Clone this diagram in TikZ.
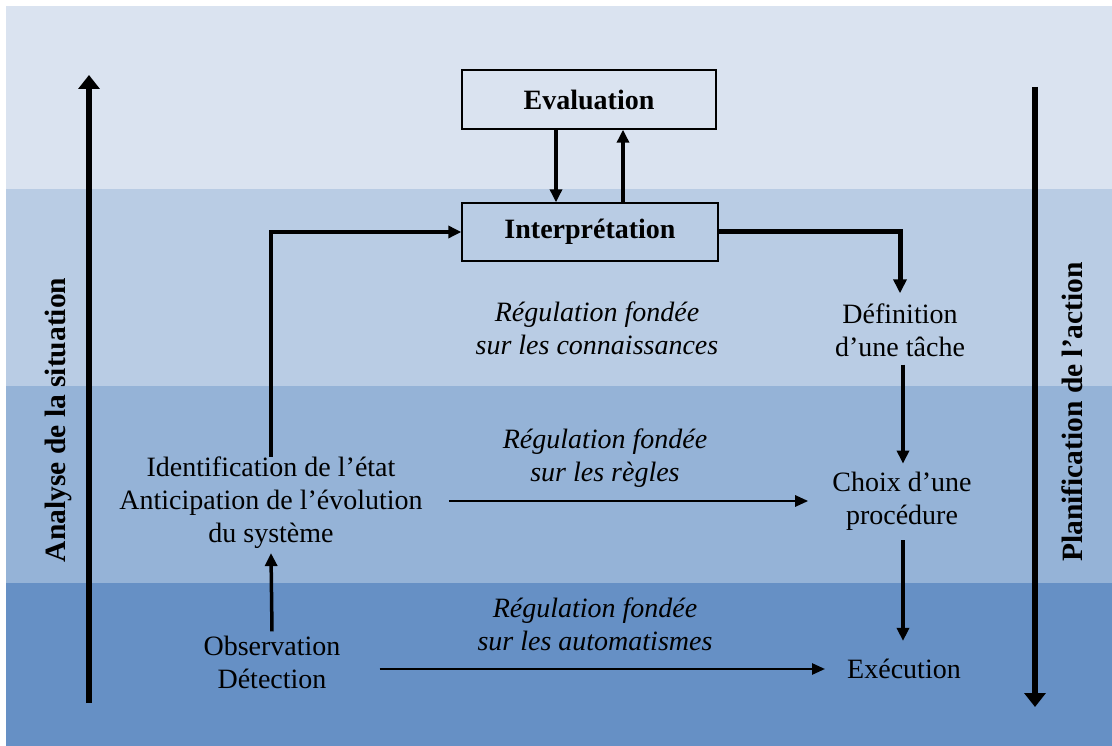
\documentclass[tikz,border=0pt]{standalone}
\usepackage{fontspec}
\setmainfont{Liberation Serif}
\usetikzlibrary{arrows.meta,calc}
\definecolor{bandA}{RGB}{218,227,240}
\definecolor{bandB}{RGB}{185,204,228}
\definecolor{bandC}{RGB}{149,179,215}
\definecolor{bandD}{RGB}{102,144,197}
\begin{document}
\begin{tikzpicture}[x=1pt,y=-1pt,
  txt/.style={font=\fontsize{28}{33}\selectfont, align=center, inner sep=4pt},
  reg/.style={font=\fontsize{28}{33}\selectfont\itshape, align=center},
  box/.style={draw, line width=1.4pt, font=\fontsize{28}{33}\selectfont\bfseries},
  side/.style={font=\fontsize{29.5}{33}\selectfont\bfseries, rotate=90},
  bigarrow/.style={line width=6pt, -{Triangle[length=14pt,width=21pt]}},
  arr/.style={line width=3.5pt, -{Triangle[length=13pt,width=12pt]}},
  thinarr/.style={line width=2.6pt, -{Triangle[length=13pt,width=11pt]}},
  fatarr/.style={line width=5pt, -{Triangle[length=14pt,width=13pt]}}]
\useasboundingbox (0,0) rectangle (1112,746);
% horizontal bands
\fill[white] (0,0) rectangle (1112,746);
\fill[bandA] (6,6) rectangle (1112,189);
\fill[bandB] (6,189) rectangle (1112,386);
\fill[bandC] (6,386) rectangle (1112,583);
\fill[bandD] (6,583) rectangle (1112,746);

% side axes
\coordinate (aBot) at (89,703);
\coordinate (aTop) at (89,75);
\coordinate (pTop) at (1035,87);
\coordinate (pBot) at (1035,707);
\draw[bigarrow] (aBot) -- (aTop);
\draw[bigarrow] (pTop) -- (pBot);
\node[side] (analyse) at (58,420) {Analyse de la situation};
\node[side] (plan) at (1072,412) {Planification de l'action};

% boxes
\node[box, minimum width=254pt, minimum height=59pt] (eval) at (589,99.5) {Evaluation};
\node[box, minimum width=256pt, minimum height=58pt] (interp) at (590,232) {Interprétation};

% text nodes
\node[txt] (def) at (900,330) {Définition\\d'une tâche};
\node[txt] (choix) at (902,501) {Choix d'une\\procédure};
\node[txt] (exec) at (904,669) {Exécution};
\node[txt] (ident) at (271,503) {Identification de l'état\\Anticipation de l'évolution\\du système};
\node[txt] (obs) at (272,662) {Observation\\Détection};

% regulation labels
\node[reg] (r1) at (597,328) {Régulation fondée\\sur les connaissances};
\node[reg] (r2) at (605,458) {Régulation fondée\\sur les règles};
\node[reg] (r3) at (595,624) {Régulation fondée\\sur les automatismes};

% connectors
\coordinate (xdown) at (556,0);
\coordinate (xup) at (623,0);
\coordinate (xv) at (903,0);
\draw[arr] (eval.south -| xdown) -- (interp.north -| xdown);
\draw[arr] (interp.north -| xup) -- (eval.south -| xup);
\draw[line width=4.5pt, -{Triangle[length=13pt,width=12pt]}] ([yshift=-4pt]ident.north) |- (interp.west);
\draw[fatarr] (interp.east) -| ([yshift=6pt]def.north);
\draw[arr] ([yshift=-4pt]def.south -| xv) -- ([yshift=4pt]choix.north -| xv);
\draw[arr] ([yshift=-6pt]choix.south -| xv) -- ([yshift=14pt]exec.north -| xv);
\draw[arr] (obs.north) -- (ident.south);
\draw[thinarr, shorten <=22pt, shorten >=20pt] (ident.east |- choix.west) -- (choix.west);
\draw[thinarr, shorten <=35pt, shorten >=18pt] (obs.east |- exec.west) -- (exec.west);
\end{tikzpicture}
\end{document}
